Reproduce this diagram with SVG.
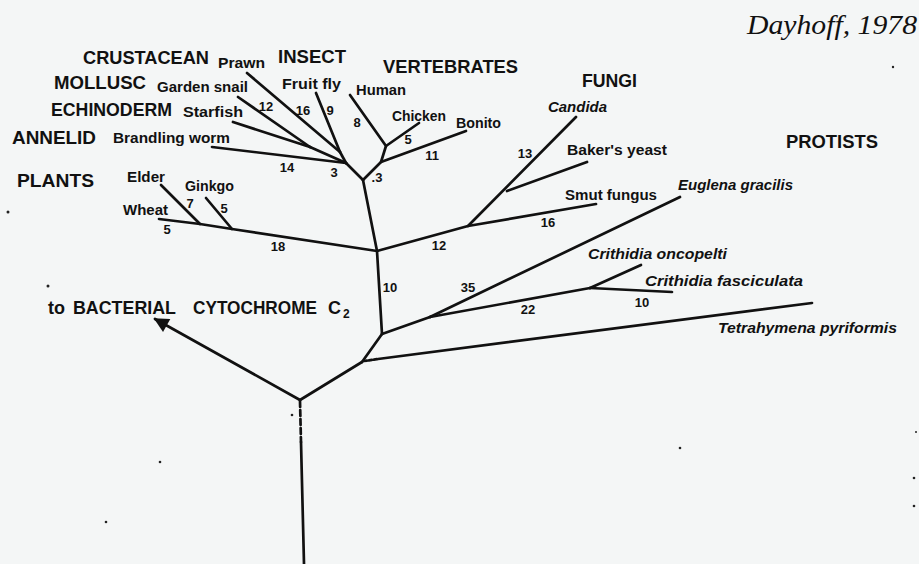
<svg xmlns="http://www.w3.org/2000/svg" width="919" height="564" viewBox="0 0 919 564">
<defs>
<style>
.bg{fill:#f4f6f6}
.br{stroke:#111;stroke-width:2.7;fill:none;stroke-linecap:round;stroke-linejoin:round}
.grp{font-family:"Liberation Sans",Arial,sans-serif;font-weight:bold;font-size:18px;fill:#111}
.sp{font-family:"Liberation Sans",Arial,sans-serif;font-weight:bold;font-size:14px;fill:#111}
.it{font-family:"Liberation Sans",Arial,sans-serif;font-weight:bold;font-style:italic;font-size:14px;fill:#111}
.num{font-family:"Liberation Sans",Arial,sans-serif;font-weight:bold;font-size:13px;fill:#111;text-anchor:middle}
.dot{fill:#222}
</style>
<marker id="ah" viewBox="0 0 10 10" refX="9" refY="5" markerWidth="6.5" markerHeight="5.5" orient="auto" markerUnits="strokeWidth">
<path d="M0,0 L10,5 L0,10 z" fill="#111"/>
</marker>
</defs>
<rect class="bg" x="0" y="0" width="919" height="564"/>

<g id="connectors">
  <!-- root -->
  <line class="br" x1="301" y1="442" x2="304" y2="564" stroke-width="3"/>
  <line class="br" x1="300" y1="401" x2="301" y2="442" stroke-width="3" stroke-dasharray="6 3" stroke-linecap="butt"/>
  <line class="br" x1="300" y1="400" x2="155" y2="319" marker-end="url(#ah)"/>
  <line class="br" x1="300" y1="400" x2="362" y2="362"/>
  <line class="br" x1="364" y1="361" x2="378" y2="359" stroke-dasharray="3 2" stroke-linecap="butt"/>
  <line class="br" x1="378" y1="359" x2="812" y2="303"/>
  <!-- protists -->
  <line class="br" x1="362" y1="362" x2="382" y2="334"/>
  <line class="br" x1="382" y1="334" x2="430" y2="317"/>
  <line class="br" x1="430" y1="317" x2="680" y2="197"/>
  <line class="br" x1="430" y1="317" x2="590" y2="288"/>
  <line class="br" x1="590" y1="288" x2="641" y2="265"/>
  <line class="br" x1="590" y1="288" x2="672" y2="292"/>
  <!-- main stem -->
  <line class="br" x1="382" y1="334" x2="377" y2="251"/>
  <line class="br" x1="377" y1="251" x2="363" y2="180"/>
  <!-- plants -->
  <polyline class="br" points="377,251 232,229 200,224 159,219"/>
  <line class="br" x1="200" y1="224" x2="161" y2="185"/>
  <line class="br" x1="232" y1="229" x2="206" y2="198"/>
  <!-- fungi -->
  <polyline class="br" points="377,251 468,226 596,204"/>
  <line class="br" x1="468" y1="226" x2="576" y2="117"/>
  <line class="br" x1="507" y1="191" x2="587" y2="162"/>
  <!-- vertebrates -->
  <polyline class="br" points="363,180 381,162 386,146 350,95"/>
  <line class="br" x1="386" y1="146" x2="419" y2="123"/>
  <line class="br" x1="381" y1="162" x2="466" y2="131"/>
  <!-- invertebrates -->
  <line class="br" x1="363" y1="180" x2="346" y2="163"/>
  <line class="br" x1="346" y1="163" x2="212" y2="147"/>
  <line class="br" x1="346" y1="163" x2="340" y2="152"/>
  <line class="br" x1="340" y1="152" x2="247" y2="73"/>
  <line class="br" x1="340" y1="152" x2="316" y2="93"/>
  <line class="br" x1="346" y1="163" x2="310" y2="147"/>
  <line class="br" x1="310" y1="147" x2="238" y2="97"/>
  <line class="br" x1="310" y1="147" x2="233" y2="122"/>
  <!-- branch lengths -->
  <text class="num" x="266" y="111">12</text>
  <text class="num" x="303" y="115">16</text>
  <text class="num" x="330" y="115">9</text>
  <text class="num" x="357" y="127">8</text>
  <text class="num" x="287" y="172">14</text>
  <text class="num" x="334" y="177">3</text>
  <text class="num" x="377" y="182">.3</text>
  <text class="num" x="408" y="144">5</text>
  <text class="num" x="432" y="160">11</text>
  <text class="num" x="190" y="208">7</text>
  <text class="num" x="224" y="213">5</text>
  <text class="num" x="167" y="234">5</text>
  <text class="num" x="278" y="251">18</text>
  <text class="num" x="439" y="250">12</text>
  <text class="num" x="525" y="158">13</text>
  <text class="num" x="548" y="227">16</text>
  <text class="num" x="390" y="292">10</text>
  <text class="num" x="468" y="292">35</text>
  <text class="num" x="528" y="314">22</text>
  <text class="num" x="642" y="307">10</text>
</g>

<g id="group-labels">
  <text class="grp" x="83" y="64" textLength="126" lengthAdjust="spacingAndGlyphs">CRUSTACEAN</text>
  <text class="grp" x="54" y="89" textLength="92" lengthAdjust="spacingAndGlyphs">MOLLUSC</text>
  <text class="grp" x="51" y="116" textLength="121" lengthAdjust="spacingAndGlyphs">ECHINODERM</text>
  <text class="grp" x="12" y="144" textLength="84" lengthAdjust="spacingAndGlyphs">ANNELID</text>
  <text class="grp" x="17" y="187" textLength="77" lengthAdjust="spacingAndGlyphs">PLANTS</text>
  <text class="grp" x="278" y="63" textLength="68" lengthAdjust="spacingAndGlyphs">INSECT</text>
  <text class="grp" x="383" y="73" textLength="135" lengthAdjust="spacingAndGlyphs">VERTEBRATES</text>
  <text class="grp" x="582" y="87" textLength="55" lengthAdjust="spacingAndGlyphs">FUNGI</text>
  <text class="grp" x="786" y="148" textLength="92" lengthAdjust="spacingAndGlyphs">PROTISTS</text>
</g>

<g id="node-prawn"><text class="sp" x="218" y="68" textLength="47" lengthAdjust="spacingAndGlyphs">Prawn</text></g>
<g id="node-garden-snail"><text class="sp" x="157" y="92" textLength="91" lengthAdjust="spacingAndGlyphs">Garden snail</text></g>
<g id="node-starfish"><text class="sp" x="183" y="117" textLength="60" lengthAdjust="spacingAndGlyphs">Starfish</text></g>
<g id="node-brandling-worm"><text class="sp" x="113" y="143" textLength="117" lengthAdjust="spacingAndGlyphs">Brandling worm</text></g>
<g id="node-fruit-fly"><text class="sp" x="282" y="89" textLength="59" lengthAdjust="spacingAndGlyphs">Fruit fly</text></g>
<g id="node-human"><text class="sp" x="356" y="95" textLength="50" lengthAdjust="spacingAndGlyphs">Human</text></g>
<g id="node-chicken"><text class="sp" x="392" y="121" textLength="54" lengthAdjust="spacingAndGlyphs">Chicken</text></g>
<g id="node-bonito"><text class="sp" x="456" y="128" textLength="45" lengthAdjust="spacingAndGlyphs">Bonito</text></g>
<g id="node-elder"><text class="sp" x="127" y="182" textLength="38" lengthAdjust="spacingAndGlyphs">Elder</text></g>
<g id="node-ginkgo"><text class="sp" x="185" y="191" textLength="49" lengthAdjust="spacingAndGlyphs">Ginkgo</text></g>
<g id="node-wheat"><text class="sp" x="123" y="215" textLength="45" lengthAdjust="spacingAndGlyphs">Wheat</text></g>
<g id="node-candida"><text class="it" x="548" y="112" textLength="59" lengthAdjust="spacingAndGlyphs">Candida</text></g>
<g id="node-bakers-yeast"><text class="sp" x="567" y="155" textLength="100" lengthAdjust="spacingAndGlyphs">Baker's yeast</text></g>
<g id="node-smut-fungus"><text class="sp" x="565" y="200" textLength="92" lengthAdjust="spacingAndGlyphs">Smut fungus</text></g>
<g id="node-euglena"><text class="it" x="678" y="190" textLength="115" lengthAdjust="spacingAndGlyphs">Euglena gracilis</text></g>
<g id="node-crithidia-oncopelti"><text class="it" x="588" y="259" textLength="139" lengthAdjust="spacingAndGlyphs">Crithidia oncopelti</text></g>
<g id="node-crithidia-fasciculata"><text class="it" x="645" y="286" textLength="158" lengthAdjust="spacingAndGlyphs">Crithidia fasciculata</text></g>
<g id="node-tetrahymena"><text class="it" x="718" y="333" textLength="179" lengthAdjust="spacingAndGlyphs">Tetrahymena pyriformis</text></g>

<g id="node-bacterial">
  <text class="grp" font-size="17"><tspan x="48" y="314">to</tspan><tspan x="73" y="314" textLength="103" lengthAdjust="spacingAndGlyphs">BACTERIAL</tspan><tspan x="193" y="314" textLength="124" lengthAdjust="spacingAndGlyphs">CYTOCHROME</tspan><tspan x="328" y="314">C</tspan><tspan x="343" y="318" font-size="12">2</tspan></text>
</g>

<g id="signature">
  <text x="747" y="34" font-family="'Liberation Serif',serif" font-style="italic" font-size="28" fill="#111" textLength="170" lengthAdjust="spacingAndGlyphs">Dayhoff, 1978</text>
</g>

<g id="specks">
  <circle class="dot" cx="8" cy="212" r="1.5"/>
  <circle class="dot" cx="48" cy="286" r="1.5"/>
  <circle class="dot" cx="292" cy="415" r="1.3"/>
  <circle class="dot" cx="893" cy="67" r="1.2"/>
  <circle class="dot" cx="160" cy="462" r="1.3"/>
  <circle class="dot" cx="106" cy="522" r="1.3"/>
  <circle class="dot" cx="680" cy="448" r="1.3"/>
  <circle class="dot" cx="914" cy="478" r="1.3"/>
  <circle class="dot" cx="914" cy="506" r="1.3"/>
  <circle class="dot" cx="916" cy="432" r="1"/>
</g>
</svg>
